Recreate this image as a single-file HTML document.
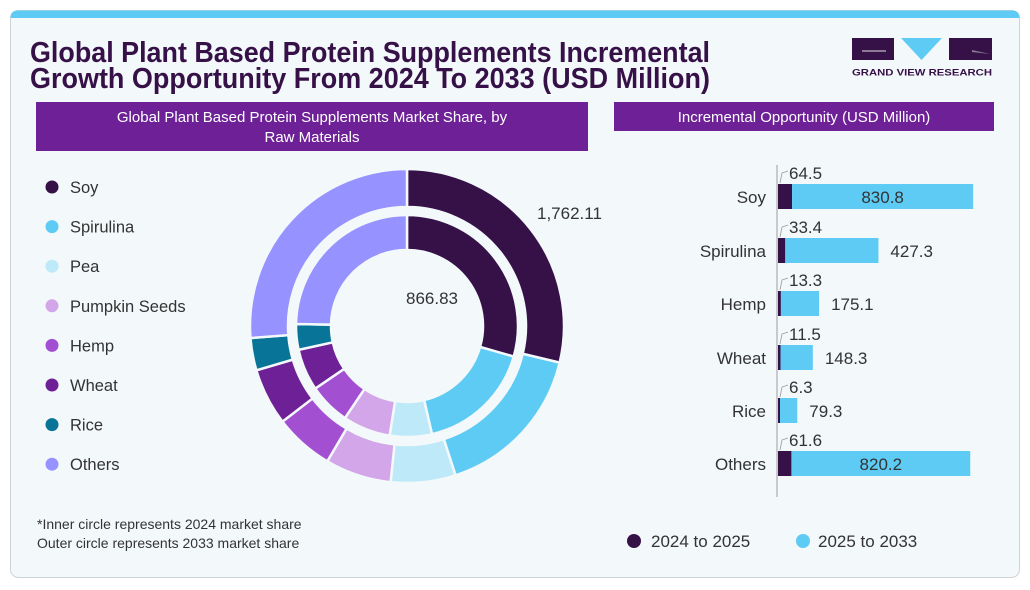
<!DOCTYPE html>
<html><head><meta charset="utf-8"><style>
body{margin:0;width:1030px;height:585px;background:#fff;font-family:"Liberation Sans",sans-serif;overflow:hidden}
</style></head><body>
<svg id="s" width="1030" height="585" xmlns="http://www.w3.org/2000/svg" font-family="Liberation Sans, sans-serif">
<rect x="10.5" y="10.5" width="1009" height="567" rx="8" fill="#f3f8fb" stroke="#cfd3d6"/>
<path d="M18 10.5 H1012 Q1019.5 10.5 1019.5 18 V18 H10.5 Q10.5 10.5 18 10.5Z" fill="#5ecbf5"/>
<g font-weight="bold" fill="#361148" font-size="29">
<text x="30" y="62" textLength="680" lengthAdjust="spacingAndGlyphs">Global Plant Based Protein Supplements Incremental</text>
<text x="30" y="88" textLength="680" lengthAdjust="spacingAndGlyphs">Growth Opportunity From 2024 To 2033 (USD Million)</text>
</g>
<rect x="852" y="38" width="42" height="22" fill="#361148"/>
<path d="M862 50 H886 V52 H862Z" fill="#8a7a95"/>
<path d="M901 38 H942 L921.5 60Z" fill="#5ecbf5"/>
<rect x="949" y="38" width="43" height="22" fill="#361148"/>
<path d="M972 50 L990 54 L972 52Z" fill="#8a7a95"/>
<text x="852" y="75.5" font-size="9.5" font-weight="bold" fill="#361148" textLength="140" lengthAdjust="spacingAndGlyphs">GRAND VIEW RESEARCH</text>
<rect x="36" y="102" width="552" height="49" fill="#6e2196"/>
<text x="312" y="122" font-size="15" fill="#fff" text-anchor="middle">Global Plant Based Protein Supplements Market Share, by</text>
<text x="312" y="142" font-size="15" fill="#fff" text-anchor="middle">Raw Materials</text>
<rect x="614" y="102" width="380" height="29" fill="#6e2196"/>
<text x="804" y="122" font-size="15" fill="#fff" text-anchor="middle">Incremental Opportunity (USD Million)</text>
<g id="donut"></g>
<text x="537" y="219" font-size="17" fill="#333">1,762.11</text>
<text x="432" y="304" font-size="17" fill="#333" text-anchor="middle">866.83</text>
<g id="leg" font-size="16.5" fill="#333"></g>
<text x="37" y="529" font-size="14" fill="#333">*Inner circle represents 2024 market share</text>
<text x="37" y="548" font-size="14" fill="#333">Outer circle represents 2033 market share</text>
<line x1="777" y1="165" x2="777" y2="497" stroke="#bbb" stroke-width="1.5"/>
<g id="bars" font-size="17" fill="#333"></g>
<circle cx="634" cy="541" r="7" fill="#361148"/>
<text x="651" y="547" font-size="17" fill="#333">2024 to 2025</text>
<circle cx="803" cy="541" r="7" fill="#5ecbf5"/>
<text x="818" y="547" font-size="17" fill="#333">2025 to 2033</text>
</svg>
<script>
var C=["#361148","#5ecbf5","#bde9f8","#d2a6e8","#a34fd2","#6e2196","#087598","#9692ff"];
var N=["Soy","Spirulina","Pea","Pumpkin Seeds","Hemp","Wheat","Rice","Others"];
var outer=[0,103.5,162,186,210.5,232.5,253.6,265.6,360];
var inner=[0,106,167,189,214,235.7,257.6,271,360];
var cx=407,cy=326,h="";
function pt(r,a){a=a*Math.PI/180;return (cx+r*Math.sin(a)).toFixed(2)+" "+(cy-r*Math.cos(a)).toFixed(2);}
function arc(R,r,a0,a1,c){var l=(a1-a0)>180?1:0;
return '<path d="M'+pt(R,a0)+' A'+R+' '+R+' 0 '+l+' 1 '+pt(R,a1)+' L'+pt(r,a1)+' A'+r+' '+r+' 0 '+l+' 0 '+pt(r,a0)+'Z" fill="'+c+'" stroke="#f3f8fb" stroke-width="2.5"/>';}
for(var i=0;i<8;i++){h+=arc(157,119,outer[i],outer[i+1],C[i]);h+=arc(111,76,inner[i],inner[i+1],C[i]);}
document.getElementById("donut").innerHTML=h;
var g="";for(i=0;i<8;i++){var y=187+i*39.6;g+='<circle cx="52" cy="'+y+'" r="6.5" fill="'+C[i]+'"/><text x="70" y="'+(y+6)+'">'+N[i]+'</text>';}
document.getElementById("leg").innerHTML=g;
var B=[["Soy",64.5,830.8,184],["Spirulina",33.4,427.3,238],["Hemp",13.3,175.1,291],["Wheat",11.5,148.3,345],["Rice",6.3,79.3,398],["Others",61.6,820.2,451]];
var k=0.218,b="";
B.forEach(function(d){var y=d[3],x0=778,w1=Math.max(2,d[1]*k),w2=d[2]*k;
b+='<rect x="'+x0+'" y="'+y+'" width="'+w1+'" height="25" fill="#361148"/>';
b+='<rect x="'+(x0+w1)+'" y="'+y+'" width="'+w2+'" height="25" fill="#5ecbf5"/>';
b+='<text x="766" y="'+(y+19)+'" text-anchor="end">'+d[0]+'</text>';
b+='<path d="M780 '+(y-1)+' L782 '+(y-11)+' L788 '+(y-13)+'" stroke="#999" fill="none" stroke-width="0.8"/>';
b+='<text x="789" y="'+(y-5)+'">'+d[1]+'</text>';
var inside=w2>150;
if(inside)b+='<text x="'+(x0+w1+w2/2)+'" y="'+(y+19)+'" text-anchor="middle">'+d[2]+'</text>';
else b+='<text x="'+(x0+w1+w2+12)+'" y="'+(y+19)+'">'+d[2]+'</text>';});
document.getElementById("bars").innerHTML=b;
</script>
</body></html>
